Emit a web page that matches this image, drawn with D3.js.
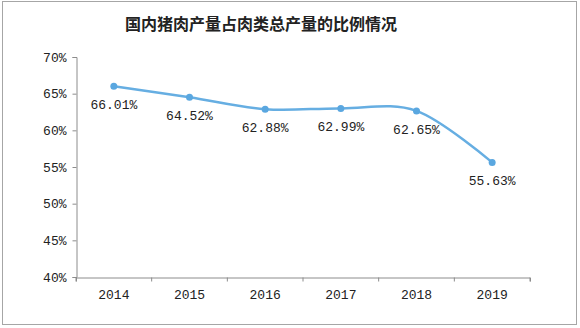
<!DOCTYPE html>
<html><head><meta charset="utf-8">
<script src="https://cdn.jsdelivr.net/npm/d3@7/dist/d3.min.js"></script>
<style>html,body{margin:0;padding:0;background:#fff;}svg{display:block;}</style>
</head><body>
<svg id="c" width="580" height="328"></svg>
<script>
const title = "国内猪肉产量占肉类总产量的比例情况";
const years = ["2014","2015","2016","2017","2018","2019"];
const shares = [66.01, 64.52, 62.88, 62.99, 62.65, 55.63];
const yTicks = [40,45,50,55,60,65,70];

const svg = d3.select("#c");
const W = 580, H = 328;
const m = {left:76, right:50, top:57, bottom:51};

svg.append("rect").attr("x",2.5).attr("y",1.5).attr("width",574).attr("height",323)
  .attr("fill","#fff").attr("stroke","#a6a6a6").attr("stroke-width",1);

svg.append("text").attr("x",261).attr("y",30).attr("text-anchor","middle")
  .attr("font-family","'Noto Sans CJK SC'").attr("font-weight","bold").attr("font-size",16)
  .attr("fill","#222").text(title);

const x = d3.scaleBand().domain(years).range([m.left, W - m.right]);
const y = d3.scaleLinear().domain([40,70]).range([H - m.bottom, m.top]);

const mono = "'Liberation Mono', 'DejaVu Sans Mono', monospace";

const yAxis = svg.append("g").attr("transform",`translate(${m.left + 0.5},0)`)
  .call(d3.axisLeft(y).tickValues(yTicks).tickSize(4).tickPadding(6).tickFormat(d => d + "%"));
const xAxis = svg.append("g").attr("transform",`translate(0,${H - m.bottom + 0.5})`)
  .call(d3.axisBottom(x).tickSize(4).tickPadding(8));
// band boundary ticks instead of center ticks
xAxis.selectAll(".tick line").remove();
xAxis.selectAll(".tick").append("line").attr("x1", -x.bandwidth()/2).attr("x2", -x.bandwidth()/2)
  .attr("y2",4).attr("stroke","#8c8c8c");
xAxis.append("line").attr("x1", W - m.right).attr("x2", W - m.right).attr("y2",4).attr("stroke","#8c8c8c");

[yAxis, xAxis].forEach(g => {
  g.selectAll(".domain").attr("stroke","#8c8c8c");
  g.selectAll(".tick line").attr("stroke","#8c8c8c");
  g.selectAll("text").attr("font-family", mono).attr("font-size",13).attr("fill","#222");
});

const cx = (d,i) => x(years[i]) + x.bandwidth()/2;
const line = d3.line().x(cx).y(d => y(d)).curve(d3.curveCardinal.tension(0));

svg.append("path").datum(shares).attr("d", line).attr("fill","none")
  .attr("stroke","#66aee2").attr("stroke-width",2.5);

svg.selectAll("circle.pt").data(shares).enter().append("circle")
  .attr("cx", cx).attr("cy", d => y(d)).attr("r",3.5).attr("fill","#5aa7e0");

svg.selectAll("text.lbl").data(shares).enter().append("text")
  .attr("x", cx).attr("y", d => y(d) + 23).attr("text-anchor","middle")
  .attr("font-family", mono).attr("font-size",13).attr("fill","#222")
  .text(d => d.toFixed(2) + "%");
</script>
</body></html>
